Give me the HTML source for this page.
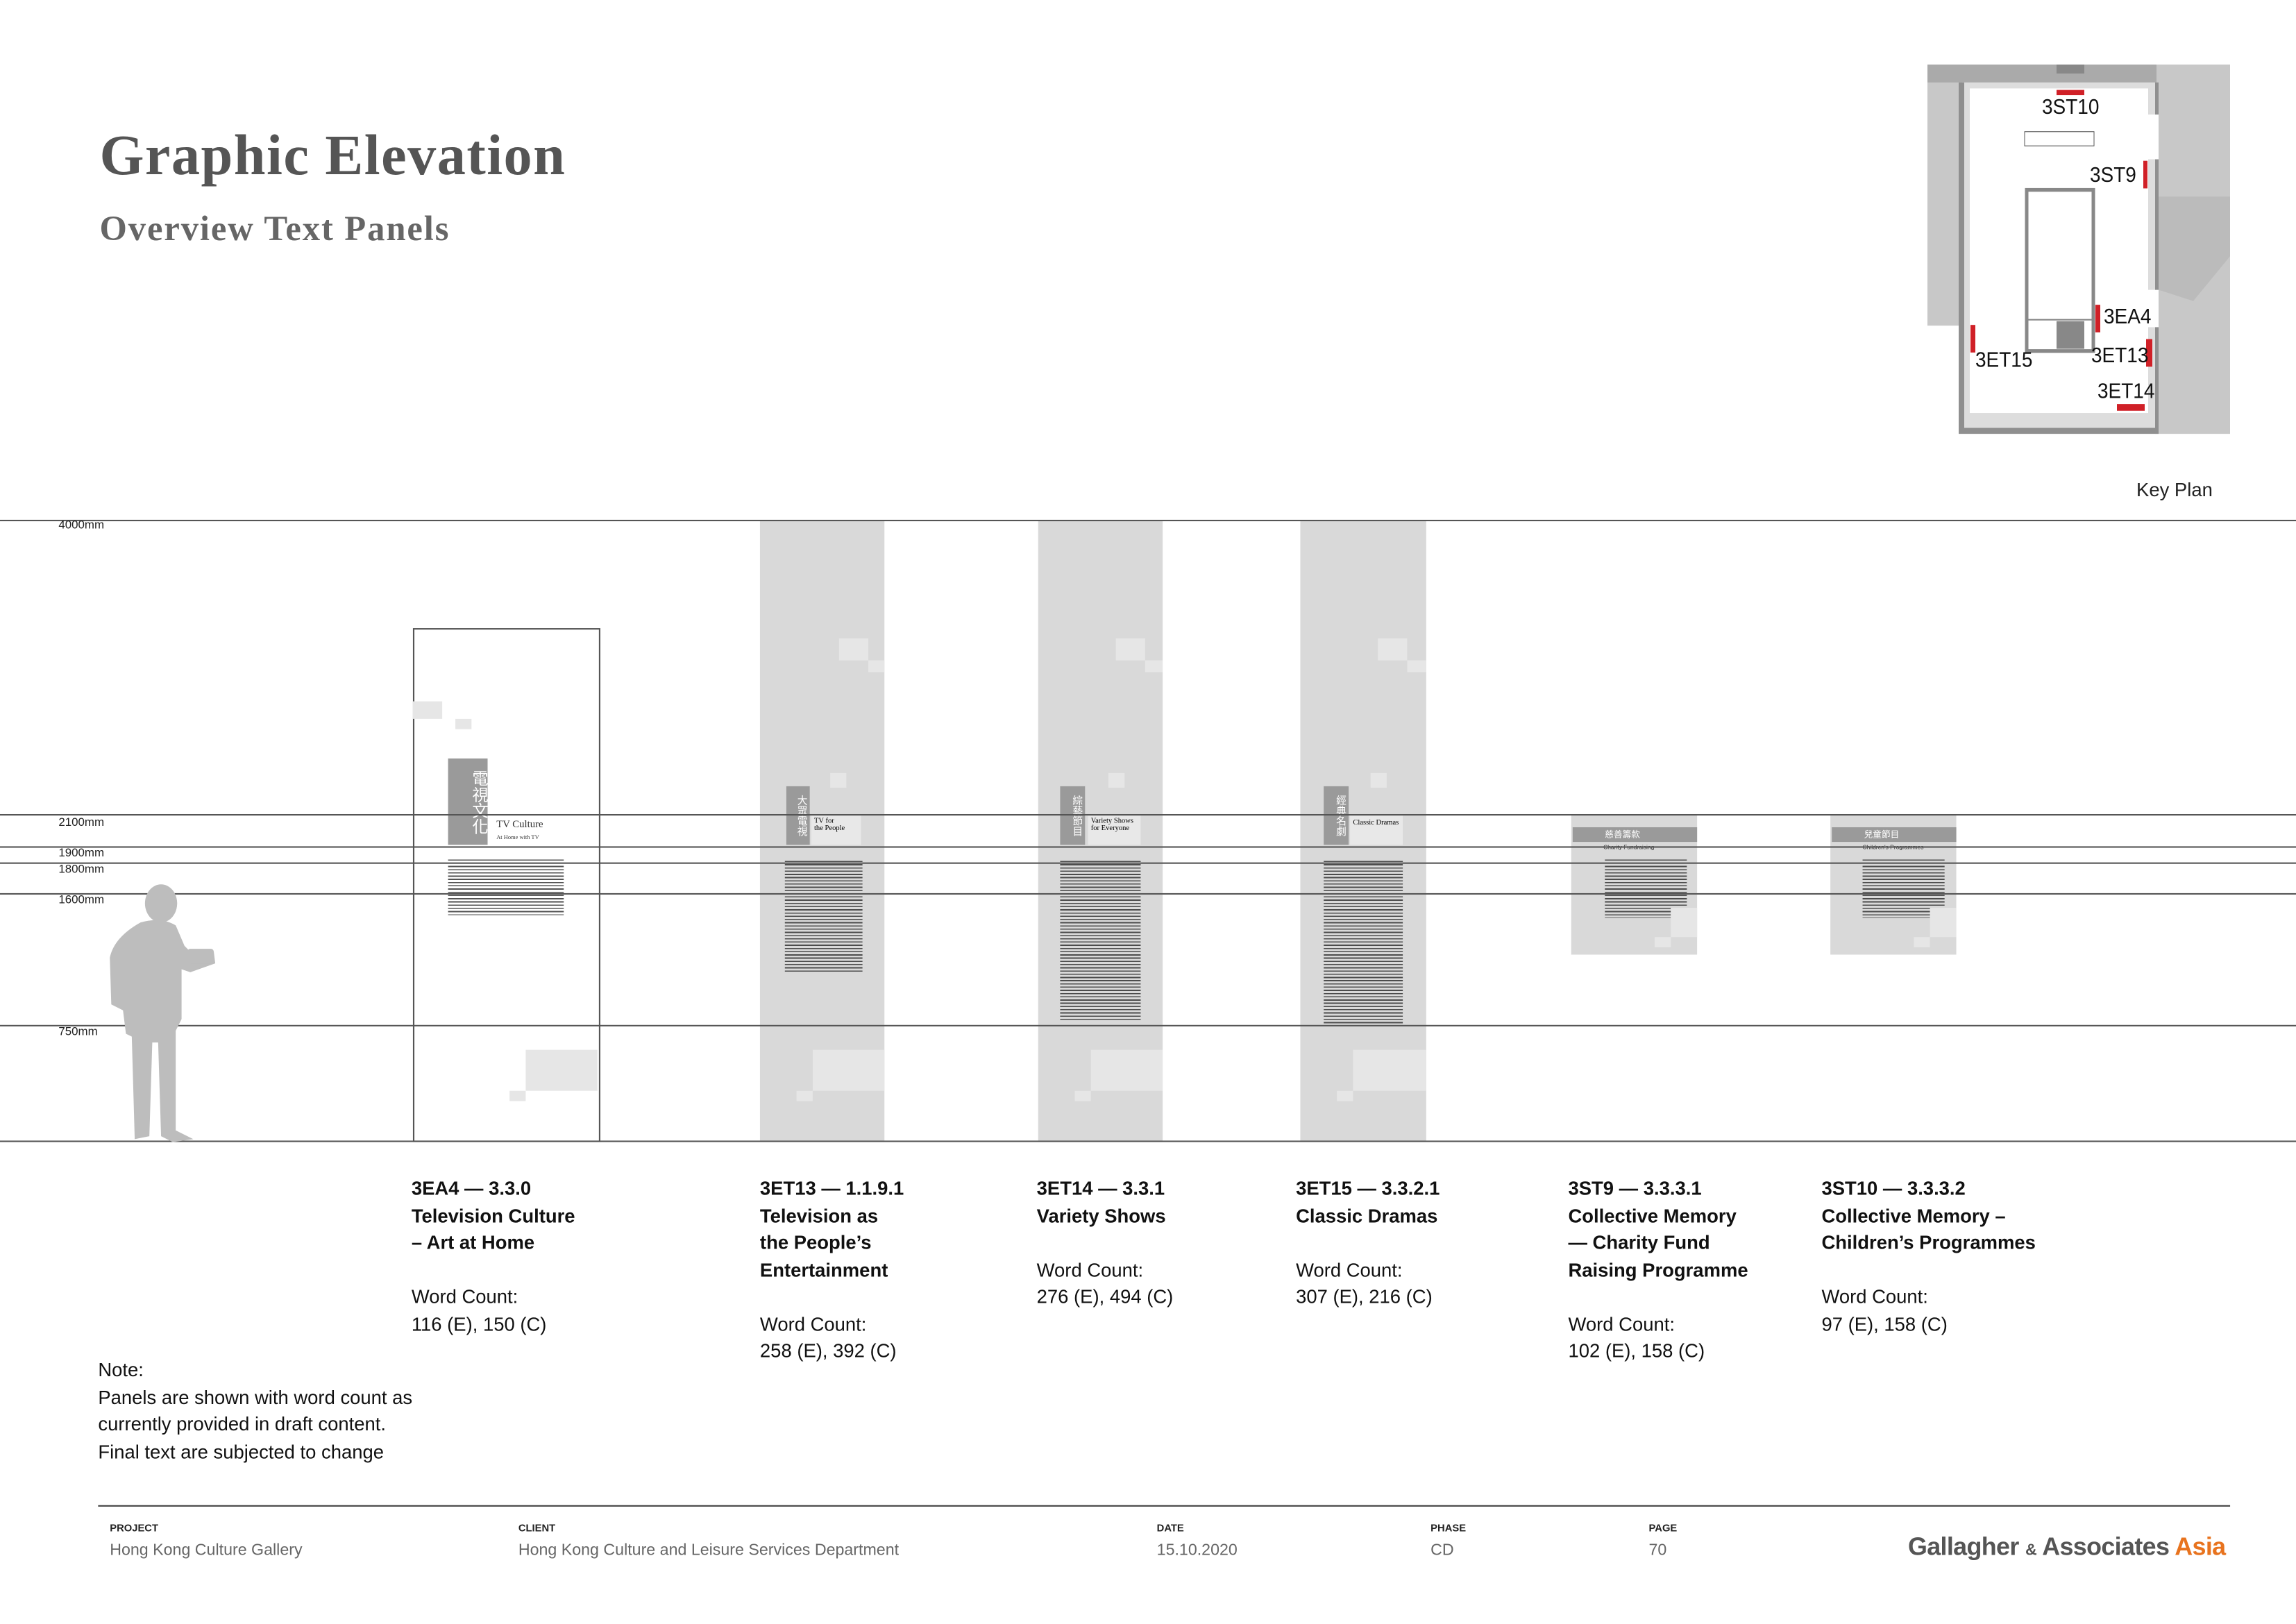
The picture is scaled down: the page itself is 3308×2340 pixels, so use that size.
<!DOCTYPE html>
<html><head><meta charset="utf-8">
<style>
html,body{margin:0;padding:0;background:#fff;}
body{width:3308px;height:2339px;overflow:hidden;position:relative;font-family:"Liberation Sans","Noto Sans CJK TC",sans-serif;}
#w{position:absolute;left:0;top:0;width:1568px;height:1109px;transform:scale(2.1097);transform-origin:0 0;}
.a{position:absolute;}
.hl{position:absolute;left:0;width:1568px;height:0;border-top:0.6px solid #555;}
.ml{position:absolute;left:40px;font-size:8px;color:#222;}
.g{position:absolute;background:#d9d9d9;}
.lt{position:absolute;background:#e6e6e6;}
.tb{position:absolute;background:#9a9a9a;color:#fff;font-size:9px;line-height:10px;text-align:center;writing-mode:vertical-rl;font-family:"Noto Sans CJK TC",sans-serif;}
.tx{position:absolute;background:repeating-linear-gradient(to bottom,#333 0 0.8px,#fff0 0.8px 2.2px);opacity:.85}
.cap{position:absolute;font-size:13px;line-height:18.5px;color:#111;}
.cap b{font-weight:bold;}
.ft{position:absolute;top:1041px;}
.ft .l{font-size:7px;font-weight:bold;color:#222;}
.ft .v{font-size:11px;color:#666;margin-top:5px;}
</style></head><body>
<div id="w">
<div class="a" style="left:68px;top:84px;font-family:'Liberation Serif',serif;font-weight:bold;font-size:39px;letter-spacing:0.7px;color:#555;">Graphic Elevation</div>
<div class="a" style="left:68px;top:144px;font-family:'Liberation Serif',serif;font-weight:bold;font-size:24px;letter-spacing:0.9px;color:#666;">Overview Text Panels</div>
<div class="a" style="left:1459px;top:327px;font-size:13px;color:#222;">Key Plan</div>

<!-- panels -->
<div class="a" style="left:282px;top:429px;width:126px;height:349px;border:0.8px solid #555;background:#fff"></div>
<div class="lt" style="left:282px;top:479px;width:20px;height:12px"></div>
<div class="lt" style="left:311px;top:491px;width:11px;height:7px"></div>
<div class="tb" style="left:306px;top:518px;width:27px;height:59px;font-size:11px">電視文化</div>
<div class="a" style="left:339px;top:559px;font-family:'Liberation Serif',serif;font-size:7px;color:#333">TV Culture<br><span style="font-size:4px">At Home with TV</span></div>
<div class="tx" style="left:306px;top:587px;width:79px;height:38px"></div>
<div class="lt" style="left:359px;top:717px;width:49px;height:28px"></div>
<div class="lt" style="left:348px;top:745px;width:11px;height:7px"></div>

<div class="g" style="left:519px;top:355px;width:85px;height:424px"></div>
<div class="lt" style="left:573px;top:436px;width:20px;height:15px"></div>
<div class="lt" style="left:593px;top:451px;width:11px;height:8px"></div>
<div class="lt" style="left:567px;top:528px;width:11px;height:10px"></div>
<div class="tb" style="left:537px;top:537px;width:16px;height:40px;font-size:7px">大眾電視</div>
<div class="a" style="left:554px;top:557px;width:34px;height:20px;background:#e8e8e8;font-family:'Liberation Serif',serif;font-size:5px;line-height:5px;padding:2px;box-sizing:border-box">TV for<br>the People</div>
<div class="tx" style="left:536px;top:588px;width:53px;height:76px"></div>
<div class="lt" style="left:555px;top:717px;width:49px;height:28px"></div>
<div class="lt" style="left:544px;top:745px;width:11px;height:7px"></div>

<div class="g" style="left:709px;top:355px;width:85px;height:424px"></div>
<div class="lt" style="left:762px;top:436px;width:20px;height:15px"></div>
<div class="lt" style="left:782px;top:451px;width:12px;height:8px"></div>
<div class="lt" style="left:757px;top:528px;width:11px;height:10px"></div>
<div class="tb" style="left:724px;top:537px;width:17px;height:40px;font-size:7px">綜藝節目</div>
<div class="a" style="left:743px;top:557px;width:36px;height:20px;background:#e8e8e8;font-family:'Liberation Serif',serif;font-size:5px;line-height:5px;padding:2px;box-sizing:border-box">Variety Shows<br>for Everyone</div>
<div class="tx" style="left:724px;top:588px;width:55px;height:109px"></div>
<div class="lt" style="left:745px;top:717px;width:49px;height:28px"></div>
<div class="lt" style="left:734px;top:745px;width:11px;height:7px"></div>

<div class="g" style="left:888px;top:355px;width:86px;height:424px"></div>
<div class="lt" style="left:941px;top:436px;width:20px;height:15px"></div>
<div class="lt" style="left:961px;top:451px;width:13px;height:8px"></div>
<div class="lt" style="left:936px;top:528px;width:11px;height:10px"></div>
<div class="tb" style="left:904px;top:537px;width:17px;height:40px;font-size:7px">經典名劇</div>
<div class="a" style="left:922px;top:557px;width:36px;height:20px;background:#e8e8e8;font-family:'Liberation Serif',serif;font-size:5px;line-height:5px;padding:3px 2px;box-sizing:border-box">Classic Dramas</div>
<div class="tx" style="left:904px;top:588px;width:54px;height:111px"></div>
<div class="lt" style="left:924px;top:717px;width:50px;height:28px"></div>
<div class="lt" style="left:913px;top:745px;width:11px;height:7px"></div>

<div class="g" style="left:1073px;top:556px;width:86px;height:96px"></div>
<div class="a" style="left:1074px;top:565px;width:85px;height:10px;background:#9a9a9a;color:#fff;font-size:6px;line-height:10px;padding-left:22px;box-sizing:border-box;font-family:'Noto Sans CJK TC',sans-serif">慈善籌款</div>
<div class="a" style="left:1095px;top:576px;font-size:4px;color:#333">Charity Fundraising</div>
<div class="tx" style="left:1096px;top:587px;width:56px;height:40px"></div>
<div class="lt" style="left:1141px;top:620px;width:18px;height:20px"></div>
<div class="lt" style="left:1130px;top:640px;width:11px;height:7px"></div>

<div class="g" style="left:1250px;top:556px;width:86px;height:96px"></div>
<div class="a" style="left:1251px;top:565px;width:85px;height:10px;background:#9a9a9a;color:#fff;font-size:6px;line-height:10px;padding-left:22px;box-sizing:border-box;font-family:'Noto Sans CJK TC',sans-serif">兒童節目</div>
<div class="a" style="left:1272px;top:576px;font-size:4px;color:#333">Children's Programmes</div>
<div class="tx" style="left:1272px;top:587px;width:56px;height:40px"></div>
<div class="lt" style="left:1318px;top:620px;width:18px;height:20px"></div>
<div class="lt" style="left:1307px;top:640px;width:11px;height:7px"></div>

<!-- level lines -->
<div class="hl" style="top:355px"></div>
<div class="hl" style="top:556px"></div>
<div class="hl" style="top:578px"></div>
<div class="hl" style="top:589px"></div>
<div class="hl" style="top:610px"></div>
<div class="hl" style="top:700px"></div>
<div class="hl" style="top:779px;border-top-width:0.9px"></div>
<div class="ml" style="top:354px">4000mm</div>
<div class="ml" style="top:557px">2100mm</div>
<div class="ml" style="top:578px">1900mm</div>
<div class="ml" style="top:589px">1800mm</div>
<div class="ml" style="top:610px">1600mm</div>
<div class="ml" style="top:700px">750mm</div>

<!-- person -->
<svg class="a" style="left:70px;top:600px" width="80" height="182" viewBox="0 0 80 182">
<g fill="#bdbdbd">
<ellipse cx="40" cy="17" rx="11" ry="13"/>
<path d="M26 30 Q40 26 50 32 L56 46 L62 52 L76 50 L77 58 L60 64 L54 62 L54 96 L50 104 L50 172 L62 178 L48 180 L40 176 L38 112 L34 112 L32 176 L22 178 L20 108 L16 106 L14 90 L6 86 L5 54 Q8 40 26 30Z"/>
<rect x="58" y="48" width="18" height="10" rx="2"/>
</g></svg>

<!-- captions -->
<div class="cap" style="left:281px;top:803px"><b>3EA4 — 3.3.0<br>Television Culture<br>– Art at Home</b><br><br>Word Count:<br>116 (E), 150 (C)</div>
<div class="cap" style="left:519px;top:803px"><b>3ET13 — 1.1.9.1<br>Television as<br>the People’s<br>Entertainment</b><br><br>Word Count:<br>258 (E), 392 (C)</div>
<div class="cap" style="left:708px;top:803px"><b>3ET14 — 3.3.1<br>Variety Shows</b><br><br>Word Count:<br>276 (E), 494 (C)</div>
<div class="cap" style="left:885px;top:803px"><b>3ET15 — 3.3.2.1<br>Classic Dramas</b><br><br>Word Count:<br>307 (E), 216 (C)</div>
<div class="cap" style="left:1071px;top:803px"><b>3ST9 — 3.3.3.1<br>Collective Memory<br>— Charity Fund<br>Raising Programme</b><br><br>Word Count:<br>102 (E), 158 (C)</div>
<div class="cap" style="left:1244px;top:803px"><b>3ST10 — 3.3.3.2<br>Collective Memory –<br>Children’s Programmes</b><br><br>Word Count:<br>97 (E), 158 (C)</div>
<div class="cap" style="left:67px;top:927px">Note:<br>Panels are shown with word count as<br>currently provided in draft content.<br>Final text are subjected to change</div>

<!-- footer -->
<div class="a" style="left:67px;top:1028px;width:1456px;border-top:1px solid #444"></div>
<div class="ft" style="left:75px"><div class="l">PROJECT</div><div class="v">Hong Kong Culture Gallery</div></div>
<div class="ft" style="left:354px"><div class="l">CLIENT</div><div class="v">Hong Kong Culture and Leisure Services Department</div></div>
<div class="ft" style="left:790px"><div class="l">DATE</div><div class="v">15.10.2020</div></div>
<div class="ft" style="left:977px"><div class="l">PHASE</div><div class="v">CD</div></div>
<div class="ft" style="left:1126px"><div class="l">PAGE</div><div class="v">70</div></div>
<div class="a" style="left:1303px;top:1047px;font-size:17px;font-weight:bold;color:#555;letter-spacing:-0.3px">Gallagher <span style="font-size:11px">&amp;</span> Associates <span style="color:#e8731e">Asia</span></div>
</div>

<!-- key plan (actual px) -->
<svg class="a" style="left:0;top:0" width="3308" height="700" viewBox="0 0 3308 700">
<g transform="translate(0,93) scale(1,1.075) translate(0,-93)">
<rect x="2777" y="93" width="50" height="350" fill="#c8c8c8"/>
<rect x="3105" y="93" width="108" height="495" fill="#c8c8c8"/>
<path d="M3110 270 L3213 270 L3213 350 L3160 410 L3110 395Z" fill="#bbb"/>
<rect x="2777" y="93" width="330" height="24" fill="#aaa"/>
<rect x="2963" y="93" width="40" height="12" fill="#888"/>
<rect x="2822" y="117" width="288" height="471" fill="#8f8f8f"/>
<rect x="2830" y="117" width="275" height="463" fill="#ddd"/>
<rect x="2838" y="125" width="257" height="435" fill="#fff"/>
<rect x="3095" y="160" width="15" height="60" fill="#fff"/>
<rect x="3095" y="395" width="15" height="50" fill="#fff"/>
<rect x="2917" y="183" width="100" height="19" fill="none" stroke="#555" stroke-width="1"/>
<rect x="2920" y="261" width="96" height="216" fill="#fff" stroke="#888" stroke-width="5"/>
<line x1="2920" y1="435" x2="3016" y2="435" stroke="#888" stroke-width="2"/>
<rect x="2963" y="437" width="40" height="37" fill="#888"/>
<g fill="#d02027">
<rect x="2963" y="127" width="40" height="7"/>
<rect x="3088" y="222" width="6" height="37"/>
<rect x="3019" y="415" width="7" height="37"/>
<rect x="2839" y="442" width="7" height="37"/>
<rect x="3092" y="461" width="9" height="37"/>
<rect x="3050" y="548" width="40" height="9"/>
</g>
<g font-family="Liberation Sans,sans-serif" font-size="28" fill="#111">
<text x="2942" y="159">3ST10</text>
<text x="3011" y="250">3ST9</text>
<text x="3031" y="440">3EA4</text>
<text x="3013" y="492">3ET13</text>
<text x="2846" y="498">3ET15</text>
<text x="3022" y="540">3ET14</text>
</g>
</g>
</svg>
</body></html>
